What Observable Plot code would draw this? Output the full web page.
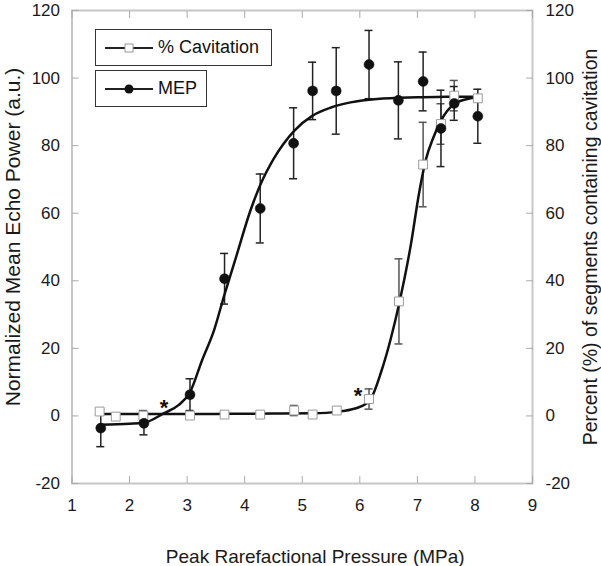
<!DOCTYPE html>
<html><head><meta charset="utf-8">
<script src="https://cdn.jsdelivr.net/npm/d3@7"></script>
<script src="https://cdn.jsdelivr.net/npm/@observablehq/plot@0.6"></script>
<style>
body{margin:0;background:#fff;font-family:"Liberation Sans",Arial,sans-serif;}
#wrap{position:relative;width:601px;height:566px;overflow:hidden;}
.leg{position:absolute;border:1.5px solid #333;background:#fff;box-sizing:border-box;font-size:18px;color:#111;}
.leg svg{position:absolute;left:9px;top:50%;margin-top:-6px;}
.leg span{position:absolute;left:62px;top:50%;transform:translateY(-52%);white-space:nowrap;}
</style></head><body><div id="wrap"></div>
<script>
// ---- data ----
const xTicks = [1, 2, 3, 4, 5, 6, 7, 8, 9];
const yTicks = [-20, 0, 20, 40, 60, 80, 100, 120];

// MEP (filled circles), left axis
const mepX   = [1.5, 2.25, 3.05, 3.65, 4.27, 4.85, 5.18, 5.59, 6.16, 6.67, 7.1, 7.41, 7.64, 8.05];
const mepY   = [-3.6, -2.2, 6.3, 40.6, 61.4, 80.7, 96.2, 96.2, 104, 93.4, 99, 85.1, 92.5, 88.7];
const mepErr = [5.5, 3.4, 4.7, 7.5, 10.2, 10.5, 8.5, 12.8, 10.1, 11.4, 8.7, 11.3, 5, 8];

// % Cavitation (open squares), right axis
const cavX   = [1.48, 1.76, 2.24, 3.05, 3.65, 4.27, 4.86, 5.18, 5.6, 6.16, 6.68, 7.1, 7.41, 7.64, 8.05];
const cavY   = [1.3, -0.2, 0.1, 0.1, 0.4, 0.4, 1.6, 0.4, 1.6, 5, 33.9, 74.4, 86.4, 94.8, 94];
const cavErr = [0, 0, 1.5, 0, 0, 0, 1.5, 0, 0, 3, 12.6, 12.5, 6, 4.5, 0];

// fitted curves
const mepFitX = [1.5, 2.0, 2.25, 2.6, 2.85, 3.05, 3.26, 3.47, 3.65, 3.85, 4.1, 4.28, 4.5, 4.86, 5.18, 5.5, 5.84, 6.3, 7.0, 7.5, 8.05];
const mepFitY = [-2.6, -2.3, -2, 0.8, 3.2, 7, 16.5, 25.5, 36, 47, 60.8, 68.7, 76, 84.4, 88.9, 91.3, 92.8, 93.8, 94.3, 94.5, 94.5];
const cavFitX = [1.5, 2.5, 3.5, 4.5, 5.2, 5.6, 5.85, 6.02, 6.19, 6.37, 6.54, 6.68, 6.89, 7.03, 7.15, 7.28, 7.41, 7.64, 7.87, 8.05];
const cavFitY = [0.6, 0.6, 0.6, 0.7, 0.8, 1.2, 1.9, 2.8, 5, 13, 23, 33, 51, 66, 76, 82.5, 87.4, 92.3, 93.8, 94.3];

// significance stars
const starX = [2.6, 5.97];
const starY = [4.1, 7.7];

const xTitle = "Peak Rarefactional Pressure (MPa)";
const yTitleLeft = "Normalized Mean Echo Power (a.u.)";
const yTitleRight = "Percent (%) of segments containing cavitation";
const legendLabels = ["% Cavitation", "MEP"];

// ---- build tables ----
const mep = mepX.map((x, i) => ({x, y: mepY[i], e: mepErr[i]}));
const cav = cavX.map((x, i) => ({x, y: cavY[i], e: cavErr[i]}));
const cavE = cav.filter(d => d.e > 0);
const mepFit = mepFitX.map((x, i) => ({x, y: mepFitY[i]}));
const cavFit = cavFitX.map((x, i) => ({x, y: cavFitY[i]}));
const stars = starX.map((x, i) => ({x, y: starY[i]}));

const font = '"Liberation Sans", Arial, sans-serif';
const axisGray = "#c6c6c6";

const chart = Plot.plot({
  width: 601, height: 566,
  marginLeft: 71.5, marginRight: 69, marginTop: 10, marginBottom: 83,
  style: {fontFamily: font, fontSize: "17px", color: "#1a1a1a", background: "white"},
  x: {domain: [1, 9]},
  y: {domain: [-20, 120]},
  marks: [
    Plot.frame({stroke: axisGray, strokeWidth: 2}),
    Plot.axisX({anchor: "bottom", ticks: xTicks, tickSize: -7, text: null, label: null, stroke: "#aaa"}),
    Plot.axisX({anchor: "top", ticks: xTicks, tickSize: -7, text: null, label: null, stroke: "#aaa"}),
    Plot.axisY({anchor: "left", ticks: yTicks, tickSize: -7, text: null, label: null, stroke: "#aaa"}),
    Plot.axisY({anchor: "right", ticks: yTicks, tickSize: -7, text: null, label: null, stroke: "#aaa"}),
    Plot.axisX({anchor: "bottom", ticks: xTicks, tickSize: 0, tickPadding: 15, label: null, tickFormat: d => String(d)}),
    Plot.axisY({anchor: "left", ticks: yTicks, tickSize: 0, tickPadding: 12, label: null, tickFormat: d => String(d)}),
    Plot.axisY({anchor: "right", ticks: yTicks, tickSize: 0, tickPadding: 13, label: null, tickFormat: d => String(d)}),
    // titles
    Plot.text([xTitle], {text: d => d, frameAnchor: "bottom", textAnchor: "middle", dx: 13, dy: 73, lineAnchor: "middle", fontSize: 19, fill: "#1a1a1a"}),
    Plot.text([yTitleLeft], {text: d => d, frameAnchor: "left", textAnchor: "middle", rotate: -90, dx: -58.5, dy: -10, lineAnchor: "middle", fontSize: 21, fill: "#1a1a1a"}),
    Plot.text([yTitleRight], {text: d => d, frameAnchor: "right", textAnchor: "middle", rotate: -90, dx: 58.5, dy: 0, lineAnchor: "middle", fontSize: 19.5, fill: "#1a1a1a"}),
    // error bars
    Plot.ruleX(cavE, {x: "x", y1: d => d.y - d.e, y2: d => d.y + d.e, stroke: "#555", strokeWidth: 1.5}),
    Plot.ruleY(cavE, {y: d => d.y + d.e, x1: "x", x2: "x", insetLeft: -4, insetRight: -4, stroke: "#555", strokeWidth: 1.5}),
    Plot.ruleY(cavE, {y: d => d.y - d.e, x1: "x", x2: "x", insetLeft: -4, insetRight: -4, stroke: "#555", strokeWidth: 1.5}),
    Plot.ruleX(mep, {x: "x", y1: d => d.y - d.e, y2: d => d.y + d.e, stroke: "#222", strokeWidth: 1.5}),
    Plot.ruleY(mep, {y: d => d.y + d.e, x1: "x", x2: "x", insetLeft: -4, insetRight: -4, stroke: "#222", strokeWidth: 1.5}),
    Plot.ruleY(mep, {y: d => d.y - d.e, x1: "x", x2: "x", insetLeft: -4, insetRight: -4, stroke: "#222", strokeWidth: 1.5}),
    // fitted curves
    Plot.line(cavFit, {x: "x", y: "y", curve: "monotone-x", stroke: "#111", strokeWidth: 2.5}),
    Plot.line(mepFit, {x: "x", y: "y", curve: "monotone-x", stroke: "#111", strokeWidth: 2.5}),
    // markers
    Plot.dot(cav, {x: "x", y: "y", symbol: "square", r: 5, fill: "white", stroke: "#9a9a9a", strokeWidth: 1}),
    Plot.dot(mep, {x: "x", y: "y", r: 5, fill: "#111", stroke: "#111", strokeWidth: 0.5}),
    // stars
    Plot.text(stars, {x: "x", y: "y", text: () => "*", fontSize: 22, fontWeight: "bold", dy: 6, fill: "#111"})
  ]
});

const wrap = document.getElementById("wrap");
wrap.appendChild(chart);

// legend boxes (inside the plot area)
function legendBox(left, top, w, h, label, kind) {
  const div = document.createElement("div");
  div.className = "leg";
  Object.assign(div.style, {left: left + "px", top: top + "px", width: w + "px", height: h + "px"});
  const marker = kind === "square"
    ? '<rect x="20" y="2" width="8" height="8" fill="white" stroke="#9a9a9a" stroke-width="1"/>'
    : '<circle cx="24" cy="6" r="4.5" fill="#111"/>';
  div.innerHTML = '<svg width="48" height="12"><line x1="0" y1="6" x2="48" y2="6" stroke="#222" stroke-width="1.8"/>' + marker + '</svg><span>' + label + '</span>';
  wrap.appendChild(div);
}
legendBox(95, 29, 177, 37, legendLabels[0], "square");
legendBox(95, 70, 112, 37, legendLabels[1], "circle");
</script>
</body></html>
